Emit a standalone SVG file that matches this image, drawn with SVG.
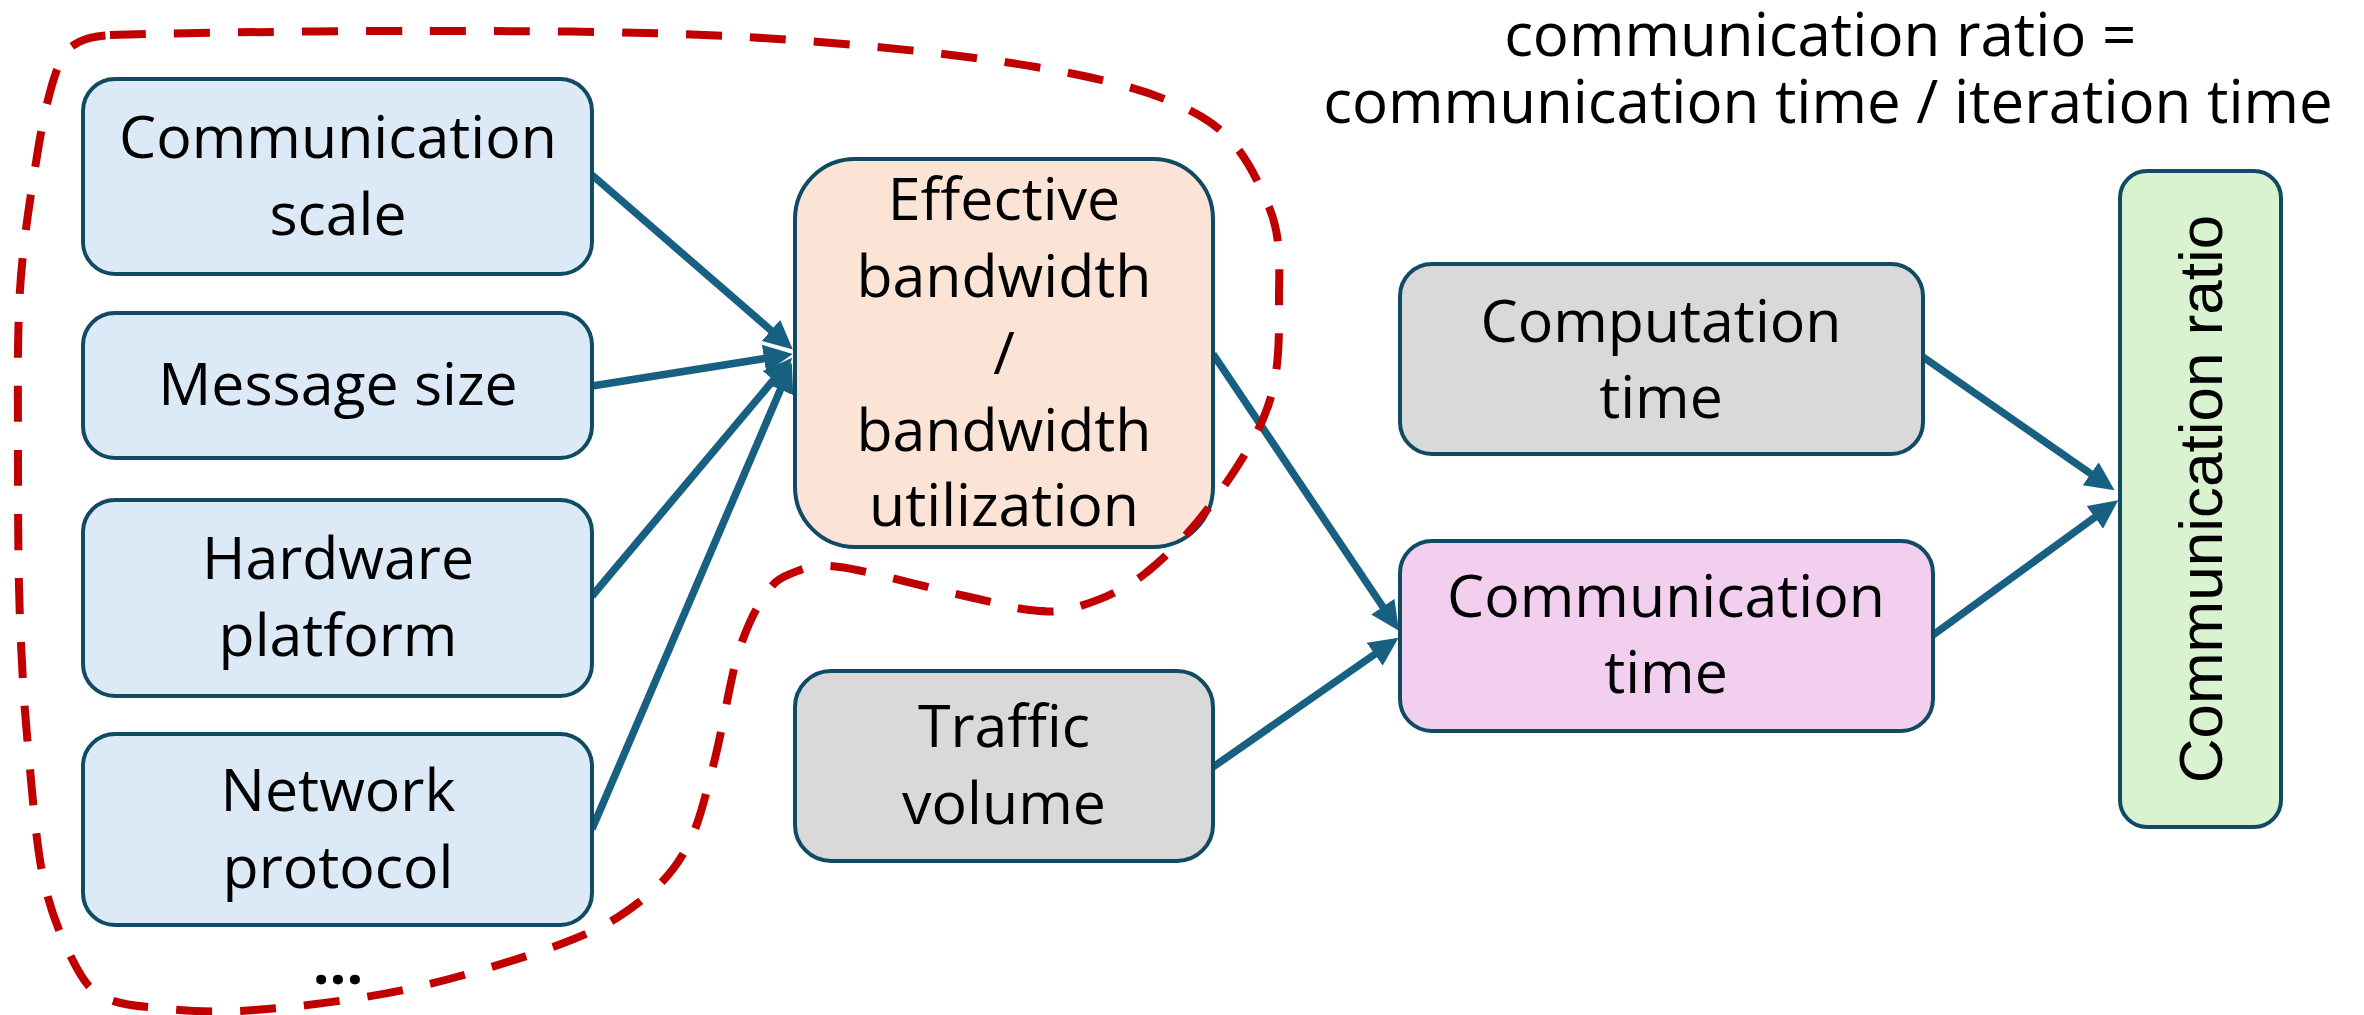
<svg xmlns="http://www.w3.org/2000/svg" width="2364" height="1015" viewBox="0 0 2364 1015">
  <style>
    .box { stroke: #104a63; stroke-width: 4; }
    .blue { fill: #dce9f6; }
    .peach { fill: #fbe3d6; }
    .grey { fill: #d9d9d9; }
    .pink { fill: #f2cfee; }
    .green { fill: #d9f2d0; }
    .lbl { font-family: "Open Sans", "Noto Sans", sans-serif; font-size: 59px; fill: #000; text-anchor: middle; }
    .vlbl { font-family: "Liberation Sans", Arial, sans-serif; font-size: 62px; fill: #000; text-anchor: middle; }
    .edge { stroke: #176082; stroke-width: 7.5; fill: none; marker-end: url(#arrow); }
    .group-outline { fill: none; stroke: #c00000; stroke-width: 8; stroke-dasharray: 36 28; }
  </style>
  <defs>
    <marker id="arrow" markerUnits="userSpaceOnUse" markerWidth="32" markerHeight="30" refX="4" refY="14" orient="auto">
      <path d="M0,0 L29,14 L0,28 Z" fill="#176082"/>
    </marker>
  </defs>

  <rect width="2364" height="1015" fill="#ffffff"/>

  <!-- formula heading -->
  <g id="formula">
    <text class="lbl" style="font-size:60px">
      <tspan x="1828" y="56">communication ratio =</tspan>
      <tspan x="1828" y="123">communication time / iteration time</tspan>
    </text>
  </g>

  <!-- connectors -->
  <g id="connectors">
    <line class="edge" x1="592" y1="175" x2="774" y2="333"/>
    <line class="edge" x1="592" y1="386" x2="768" y2="358"/>
    <line class="edge" x1="592" y1="596" x2="776" y2="377"/>
    <line class="edge" x1="592" y1="829" x2="782" y2="386"/>
    <line class="edge" x1="1213" y1="354" x2="1385" y2="610"/>
    <line class="edge" x1="1213" y1="767" x2="1378" y2="652"/>
    <line class="edge" x1="1923" y1="357" x2="2094" y2="476"/>
    <line class="edge" x1="1933" y1="635" x2="2098" y2="515"/>
  </g>

  <!-- inputs -->
  <g id="comm-scale">
    <rect class="box blue" x="83" y="79" width="509" height="195" rx="32"/>
    <text class="lbl" x="338" y="158">Communication</text>
    <text class="lbl" x="338" y="235">scale</text>
  </g>
  <g id="message-size">
    <rect class="box blue" x="83" y="313" width="509" height="145" rx="32"/>
    <text class="lbl" x="338" y="405">Message size</text>
  </g>
  <g id="hardware-platform">
    <rect class="box blue" x="83" y="500" width="509" height="196" rx="32"/>
    <text class="lbl" x="338" y="579">Hardware</text>
    <text class="lbl" x="338" y="656">platform</text>
  </g>
  <g id="network-protocol">
    <rect class="box blue" x="83" y="734" width="509" height="191" rx="32"/>
    <text class="lbl" x="338" y="811">Network</text>
    <text class="lbl" x="338" y="888">protocol</text>
  </g>
  <g id="more-factors">
    <text class="lbl" x="338" y="984" style="font-weight:700">...</text>
  </g>

  <g id="effective-bandwidth">
    <rect class="box peach" x="795" y="159" width="418" height="388" rx="60"/>
    <text class="lbl" x="1004" y="220">Effective</text>
    <text class="lbl" x="1004" y="297">bandwidth</text>
    <text class="lbl" x="1004" y="374">/</text>
    <text class="lbl" x="1004" y="451">bandwidth</text>
    <text class="lbl" x="1004" y="526">utilization</text>
  </g>
  <g id="traffic-volume">
    <rect class="box grey" x="795" y="671" width="418" height="190" rx="36"/>
    <text class="lbl" x="1004" y="747">Traffic</text>
    <text class="lbl" x="1004" y="824">volume</text>
  </g>

  <g id="computation-time">
    <rect class="box grey" x="1400" y="264" width="523" height="190" rx="32"/>
    <text class="lbl" x="1661" y="342">Computation</text>
    <text class="lbl" x="1661" y="418">time</text>
  </g>
  <g id="communication-time">
    <rect class="box pink" x="1400" y="541" width="533" height="190" rx="32"/>
    <text class="lbl" x="1666" y="617">Communication</text>
    <text class="lbl" x="1666" y="693">time</text>
  </g>

  <g id="communication-ratio">
    <rect class="box green" x="2120" y="171" width="161" height="656" rx="27"/>
    <text class="vlbl" x="0" y="0" transform="translate(2222 499) rotate(-90)">Communication ratio</text>
  </g>

  <!-- dashed outline around the factors that set effective bandwidth -->
  <g id="bandwidth-factors-outline">
    <path class="group-outline" d="M110,35 C166,33 309,31 415,31 C521,31 642,31 746,37 C850,43 960,54 1036,67 C1112,80 1163,94 1202,117 C1241,140 1256,177 1269,207 C1282,238 1279,268 1279,300 C1279,332 1280,367 1270,400 C1260,433 1238,467 1217,496 C1197,525 1170,554 1147,572 C1124,591 1097,601 1077,607 C1058,613 1049,612 1030,610 C1011,608 997,603 965,596 C933,589 869,571 840,567 C811,563 803,569 790,574 C777,579 772,584 763,598 C754,612 746,628 737,657 C729,686 721,738 712,770 C704,802 698,827 686,849 C674,871 659,887 638,903 C617,919 599,930 561,944 C523,958 459,978 408,989 C357,1000 296,1007 255,1010 C214,1013 186,1011 160,1008 C134,1006 115,1004 100,995 C85,986 79,973 69,953 C60,933 50,911 43,877 C36,843 32,790 28,747 C24,704 22,670 20,620 C18,571 18,505 18,450 C18,395 17,340 20,290 C23,240 32,187 38,150 C44,113 51,85 58,67 C65,49 70,47 79,42 C88,37 98,36 110,35 Z"/>
  </g>
</svg>
